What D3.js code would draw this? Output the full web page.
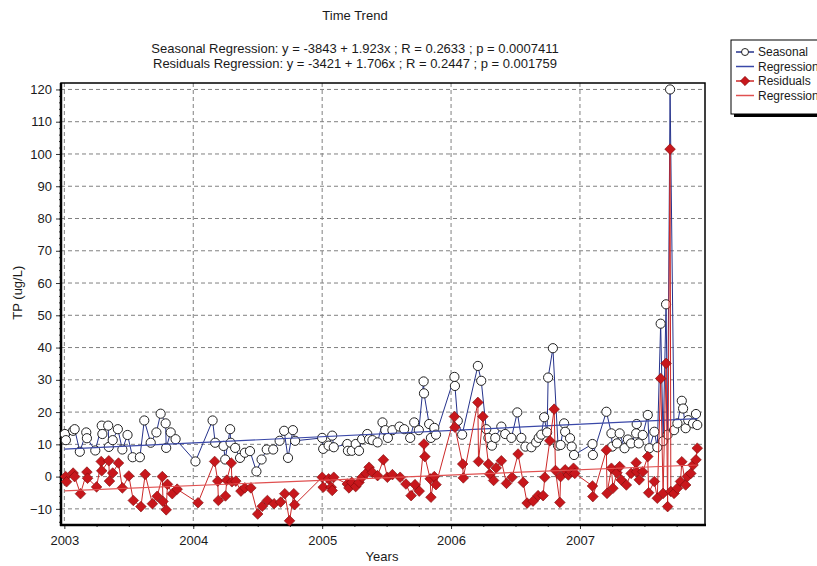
<!DOCTYPE html>
<html>
<head>
<meta charset="utf-8">
<script src="https://cdn.jsdelivr.net/npm/d3@7"></script>
<style>
  body { margin: 0; background: #fff; }
  text { font-family: "Liberation Sans", Arial, sans-serif; fill: #1a1a1a; }
</style>
</head>
<body>
<script>
// data: [decimal year, TP ug/L]
var seasonal = [
  [2003.004, 13.2], [2003.012, 11.3], [2003.068, 14.2], [2003.08, 14.7], [2003.12, 7.7],
  [2003.17, 13.7], [2003.175, 11.9], [2003.24, 8.1], [2003.29, 15.8], [2003.295, 13.2],
  [2003.34, 15.8], [2003.345, 9.2], [2003.375, 11.3], [2003.415, 14.7], [2003.45, 8.4],
  [2003.49, 12.9], [2003.53, 6], [2003.586, 6], [2003.62, 17.4], [2003.67, 10.5],
  [2003.714, 13.7], [2003.747, 19.5], [2003.786, 16.5], [2003.79, 8.9], [2003.825, 13.7],
  [2003.863, 11.6], [2004.017, 4.7], [2004.15, 17.4], [2004.17, 10.5], [2004.235, 9.5],
  [2004.248, 5.3], [2004.286, 14.7], [2004.29, 10.5], [2004.325, 8.9], [2004.363, 5.8],
  [2004.4, 7.4], [2004.44, 7.9], [2004.49, 1.6], [2004.53, 5.3], [2004.57, 8.4],
  [2004.62, 8.4], [2004.67, 11.1], [2004.705, 14.2], [2004.735, 5.8], [2004.773, 14.4],
  [2004.79, 11.1], [2005.0, 12], [2005.008, 8.6], [2005.05, 9.6], [2005.078, 12.7],
  [2005.09, 9.1], [2005.195, 10.1], [2005.2, 8], [2005.23, 8], [2005.26, 10.1],
  [2005.286, 8], [2005.31, 11.6], [2005.35, 13.2], [2005.364, 11.6], [2005.39, 11.3],
  [2005.43, 10.6], [2005.468, 16.8], [2005.49, 14.4], [2005.51, 12], [2005.545, 14.4],
  [2005.6, 15.5], [2005.636, 14.7], [2005.683, 12], [2005.714, 16.8], [2005.75, 14.4],
  [2005.787, 29.5], [2005.79, 25.8], [2005.83, 16.3], [2005.844, 12], [2005.87, 15.1],
  [2005.883, 13], [2006.026, 30.9], [2006.03, 28.1], [2006.052, 17.3], [2006.086, 13],
  [2006.208, 34.3], [2006.234, 29.7], [2006.273, 14.7], [2006.29, 12], [2006.317, 9.6],
  [2006.343, 12], [2006.39, 15.5], [2006.42, 13.2], [2006.468, 12], [2006.514, 19.9],
  [2006.545, 12], [2006.577, 9.3], [2006.623, 9.1], [2006.66, 10.6], [2006.68, 12],
  [2006.7, 13], [2006.722, 18.4], [2006.745, 13.7], [2006.753, 30.7], [2006.79, 39.8],
  [2006.83, 9.6], [2006.85, 9.8], [2006.877, 16.5], [2006.885, 13.9], [2006.923, 11.9],
  [2006.936, 9.3], [2006.954, 6.7], [2007.097, 10.1], [2007.1, 6.7], [2007.205, 20.1],
  [2007.244, 13.4], [2007.25, 9.3], [2007.287, 10.3], [2007.308, 13.4], [2007.346, 8.8],
  [2007.372, 11.5], [2007.397, 10.3], [2007.436, 13.4], [2007.44, 16.3], [2007.456, 10.3],
  [2007.487, 12.9], [2007.526, 19.1], [2007.538, 8.8], [2007.577, 13.9], [2007.6, 9.1],
  [2007.626, 47.4], [2007.645, 11], [2007.668, 53.4], [2007.68, 13], [2007.699, 120],
  [2007.73, 14.4], [2007.756, 16.5], [2007.79, 23.5], [2007.8, 21.1], [2007.82, 15],
  [2007.84, 17.5], [2007.877, 16.5], [2007.9, 19.4], [2007.91, 16]
];

var residuals = [
  [2003.01, 0], [2003.017, -1.6], [2003.068, 1.1], [2003.08, 0], [2003.125, -5.3],
  [2003.175, 1.4], [2003.18, -0.5], [2003.25, -3.2], [2003.286, 4.7], [2003.29, 1.8],
  [2003.345, 4.9], [2003.35, -1.4], [2003.375, 1.1], [2003.42, 4.2], [2003.45, -3.5],
  [2003.5, 0.2], [2003.535, -7.4], [2003.594, -9.3], [2003.627, 0.7], [2003.683, -8.4],
  [2003.72, -6.1], [2003.76, 0], [2003.765, -7.7], [2003.79, -10.3], [2003.8, -2.4],
  [2003.837, -5.3], [2003.875, -3.9], [2004.037, -8.1], [2004.166, 4.7], [2004.19, -1.4],
  [2004.195, -7.4], [2004.25, -6], [2004.26, -1.1], [2004.295, 4.2], [2004.3, -1.6],
  [2004.33, -1.4], [2004.37, -4.5], [2004.4, -3.5], [2004.447, -3.5], [2004.5, -11.6],
  [2004.535, -9.2], [2004.575, -7.4], [2004.627, -8.4], [2004.678, -7.9], [2004.71, -5.3],
  [2004.747, -13.7], [2004.78, -5.3], [2004.786, -8.7], [2005.0, -0.2], [2005.008, -3.3],
  [2005.05, -0.7], [2005.07, -3.3], [2005.078, -4.3], [2005.09, -0.2], [2005.195, -2.3],
  [2005.208, -3.5], [2005.23, -1.8], [2005.26, -3.1], [2005.286, -1.8], [2005.31, -0.2],
  [2005.34, 1], [2005.364, 2.9], [2005.39, 1.3], [2005.43, 0.3], [2005.475, 5.2],
  [2005.506, -0.2], [2005.545, 0.6], [2005.605, -0.2], [2005.65, -2.3], [2005.69, -5.9],
  [2005.72, -2.5], [2005.753, -4.5], [2005.79, 10.1], [2005.797, 6.2], [2005.838, -0.7],
  [2005.844, -6.4], [2005.87, 0], [2005.883, -2.5], [2006.026, 18.6], [2006.03, 15.3],
  [2006.09, 3.9], [2006.095, -0.4], [2006.208, 23], [2006.213, 4.7], [2006.247, 18.6],
  [2006.29, 3.9], [2006.3, 0.8], [2006.33, -1.2], [2006.35, 2.7], [2006.39, 4.9],
  [2006.43, -2.1], [2006.473, -0.2], [2006.52, 7], [2006.56, -1.8], [2006.59, -8.2],
  [2006.636, -7.6], [2006.675, -5.9], [2006.714, -5.9], [2006.727, -0.2], [2006.766, 11.1],
  [2006.8, 20.9], [2006.81, 1.9], [2006.844, -8], [2006.85, 0], [2006.885, 2.1],
  [2006.91, 0.5], [2006.93, 1.5], [2006.95, 2.6], [2006.96, 1], [2007.097, -2.9],
  [2007.1, -6.2], [2007.205, 8.2], [2007.21, -5.2], [2007.244, 2.6], [2007.256, -3.6],
  [2007.287, 1.2], [2007.308, 3.1], [2007.32, -1], [2007.36, -2.6], [2007.397, 1],
  [2007.436, 4.3], [2007.44, 1.5], [2007.46, -1], [2007.487, 1.5], [2007.526, 6.2],
  [2007.533, -5], [2007.577, -1.5], [2007.6, -6.7], [2007.626, 30.4], [2007.645, -5.2],
  [2007.668, 35.1], [2007.68, -9.3], [2007.699, 101.5], [2007.705, -4.6], [2007.73, -5.2],
  [2007.756, -3.6], [2007.78, -1.5], [2007.79, 4.6], [2007.82, -2.6], [2007.833, 0],
  [2007.86, 1], [2007.877, 3.6], [2007.9, 5.2], [2007.91, 8.8]
];

// regression lines, end points
var seasonalFit = [[2003.0, 8.5], [2007.91, 18.0]];
var residualFit = [[2003.0, -4.4], [2007.91, 3.6]];

var yearTicks = [2003, 2004, 2005, 2006, 2007];
var tpTicks = [-10, 0, 10, 20, 30, 40, 50, 60, 70, 80, 90, 100, 110, 120];
var legendNames = ["Seasonal", "Regression", "Residuals", "Regression"];
var titleText = "Time Trend";
var subtitleLines = [
  "Seasonal Regression: y = -3843 + 1.923x ; R = 0.2633 ; p = 0.0007411",
  "Residuals Regression: y = -3421 + 1.706x ; R = 0.2447 ; p = 0.001759"
];

var blueLine = "#26338c", blueFit = "#3a48a8",
    redLine = "#cc2828", redFit = "#e05050",
    diamondFill = "#c8171c", diamondStroke = "#7a0a0a";

// set the dimensions and margins of the graph
var margin = {top: 83, right: 112, bottom: 41, left: 61},
    width = 817 - margin.left - margin.right,
    height = 566 - margin.top - margin.bottom;

var svg = d3.select('body')
  .append("svg")
    .attr("width", 817)
    .attr("height", 566);

var g = svg.append("g")
    .attr("transform", "translate(" + margin.left + "," + margin.top + ")");

var x = d3.scaleLinear().domain([2002.974, 2007.97]).range([0, width]);
var y = d3.scaleLinear().domain([-15, 122]).range([height, 0]);

// dashed grid
g.append("g").selectAll("line").data(tpTicks).enter().append("line")
  .attr("x1", 0).attr("x2", width)
  .attr("y1", function(d) { return y(d); }).attr("y2", function(d) { return y(d); })
  .attr("stroke", "#808080").attr("stroke-dasharray", "4,3");
g.append("g").selectAll("line").data(yearTicks).enter().append("line")
  .attr("y1", 0).attr("y2", height)
  .attr("x1", function(d) { return x(d); }).attr("x2", function(d) { return x(d); })
  .attr("stroke", "#808080").attr("stroke-dasharray", "4,3");

// Y axis, major + minor ticks
g.append("g")
  .call(d3.axisLeft(y).tickValues(tpTicks).tickSize(5).tickPadding(4));
g.append("g")
  .call(d3.axisLeft(y).tickValues(d3.range(-14, 122, 2)).tickSize(2).tickFormat(""));

// X axis, years + quarters
g.append("g")
  .attr("transform", "translate(0," + height + ")")
  .call(d3.axisBottom(x).tickValues(yearTicks).tickFormat(d3.format("d")).tickSize(4).tickPadding(7));
g.append("g")
  .attr("transform", "translate(0," + height + ")")
  .call(d3.axisBottom(x).tickValues(d3.range(2003.25, 2007.9, 0.25)).tickSize(2).tickFormat(""));

g.selectAll(".domain").remove();
g.selectAll(".tick text").style("font-size", "13px").attr("fill", "#1a1a1a");
g.selectAll(".tick line").attr("stroke", "#333");

// frame
g.append("rect").attr("width", width).attr("height", height)
  .attr("fill", "none").attr("stroke", "#000").attr("stroke-width", 1.5);
g.append("line").attr("x1", 0).attr("x2", 0).attr("y1", 0).attr("y2", height + 1)
  .attr("stroke", "#000").attr("stroke-width", 2.5);
g.append("line").attr("x1", -1).attr("x2", width + 1).attr("y1", height).attr("y2", height)
  .attr("stroke", "#000").attr("stroke-width", 2.5);

var line = d3.line()
  .x(function(d) { return x(d[0]); })
  .y(function(d) { return y(d[1]); });

// Seasonal
g.append("path").datum(seasonal).attr("d", line)
  .attr("fill", "none").attr("stroke", blueLine).attr("stroke-width", 1);
g.append("g").selectAll("circle").data(seasonal).enter().append("circle")
  .attr("cx", function(d) { return x(d[0]); })
  .attr("cy", function(d) { return y(d[1]); })
  .attr("r", 4.6)
  .attr("fill", "#fff").attr("stroke", "#222").attr("stroke-width", 1);

// Seasonal regression
g.append("path").datum(seasonalFit).attr("d", line)
  .attr("fill", "none").attr("stroke", blueFit).attr("stroke-width", 1.2);

// Residuals
var diamond = d3.symbol().type(d3.symbolDiamond2).size(72);
g.append("path").datum(residuals).attr("d", line)
  .attr("fill", "none").attr("stroke", redLine).attr("stroke-width", 1);
g.append("g").selectAll("path").data(residuals).enter().append("path")
  .attr("d", diamond)
  .attr("transform", function(d) { return "translate(" + x(d[0]) + "," + y(d[1]) + ")"; })
  .attr("fill", diamondFill).attr("stroke", diamondStroke).attr("stroke-width", 0.6);

// Residual regression
g.append("path").datum(residualFit).attr("d", line)
  .attr("fill", "none").attr("stroke", redFit).attr("stroke-width", 1.2);

// titles
svg.append("text").attr("x", 355).attr("y", 20)
  .attr("text-anchor", "middle").style("font-size", "13px").text(titleText);
svg.selectAll(".sub").data(subtitleLines).enter().append("text")
  .attr("class", "sub")
  .attr("x", 355).attr("y", function(d, i) { return 53 + i * 15; })
  .attr("text-anchor", "middle").style("font-size", "13px")
  .text(function(d) { return d; });

// axis titles
svg.append("text").attr("x", 382).attr("y", 561)
  .attr("text-anchor", "middle").style("font-size", "13px").text("Years");
svg.append("text")
  .attr("transform", "translate(22," + (margin.top + y(57)) + ") rotate(-90)")
  .attr("text-anchor", "middle").style("font-size", "13px").text("TP (ug/L)");

// legend
var lg = svg.append("g").attr("transform", "translate(731,40)");
lg.append("rect").attr("x", 3).attr("y", 3).attr("width", 100).attr("height", 74).attr("fill", "#000");
lg.append("rect").attr("x", 0).attr("y", 0).attr("width", 100).attr("height", 74)
  .attr("fill", "#fff").attr("stroke", "#000").attr("stroke-width", 1);
var legendColors = [blueLine, blueFit, redLine, redFit];
legendNames.forEach(function(name, i) {
  var ry = 12 + i * 14.5;
  lg.append("line").attr("x1", 5).attr("x2", 23).attr("y1", ry).attr("y2", ry)
    .attr("stroke", legendColors[i]).attr("stroke-width", 1.5);
  if (i === 0) {
    lg.append("circle").attr("cx", 14).attr("cy", ry).attr("r", 3.5)
      .attr("fill", "#fff").attr("stroke", "#222");
  }
  if (i === 2) {
    lg.append("path").attr("d", d3.symbol().type(d3.symbolDiamond2).size(55))
      .attr("transform", "translate(14," + ry + ")")
      .attr("fill", diamondFill).attr("stroke", diamondStroke).attr("stroke-width", 0.6);
  }
  lg.append("text").attr("x", 27).attr("y", ry + 4.3)
    .style("font-size", "12px").text(name);
});
</script>
</body>
</html>
